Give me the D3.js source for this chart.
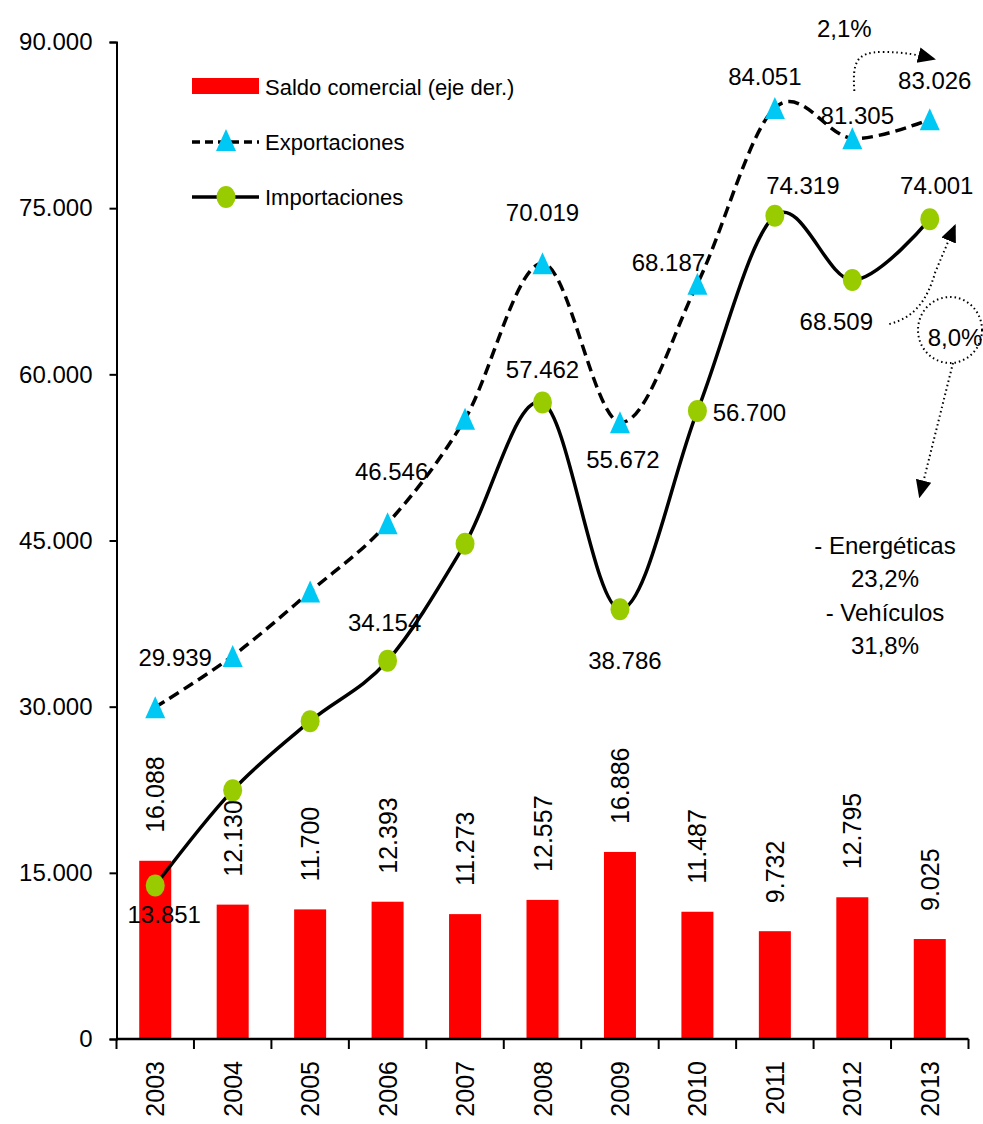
<!DOCTYPE html>
<html>
<head>
<meta charset="utf-8">
<script src="https://cdn.jsdelivr.net/npm/d3@7"></script>
<style>
  html, body { margin: 0; padding: 0; background: #fff; }
  svg text { font-family: "Liberation Sans", Arial, sans-serif; fill: #000; }
</style>
</head>
<body>
<svg id="chart" width="983" height="1124"></svg>
<script>
// Comercio exterior 2003-2013 (millones)
const years = ["2003","2004","2005","2006","2007","2008","2009","2010","2011","2012","2013"];
const exportaciones = [29939, 34576, 40387, 46546, 55980, 70019, 55672, 68187, 84051, 81305, 83026];
const importaciones = [13851, 22445, 28687, 34154, 44707, 57462, 38786, 56700, 74319, 68509, 74001];
const saldo = [16088, 12130, 11700, 12393, 11273, 12557, 16886, 11487, 9732, 12795, 9025];
const yTicks = [0, 15000, 30000, 45000, 60000, 75000, 90000];

// which points carry a value label, and where that label sits relative to its point
const expLabelOffsets = [[20,-50], null, null, [4,-52], null, [0,-51], [3,37], [-29,-21], [-10,-31], [5,-23], [5,-39]];
const impLabelOffsets = [[9,29], null, null, [-3,-38], null, [0,-33], [5,51], [52,2], [28,-30], [-16,41], [7,-34]];

const fmt = v => {
  const s = String(Math.round(v));
  return s.replace(/\B(?=(\d{3})+(?!\d))/g, ".");
};

const svg = d3.select("#chart");
const plotLeft = 116.5, plotRight = 968.5, plotTop = 42, plotBottom = 1039;

const x = d3.scaleBand().domain(years).range([plotLeft, plotRight]).paddingInner(0).paddingOuter(0);
const y = d3.scaleLinear().domain([0, 90000]).range([plotBottom, plotTop]);
const cx = d => x(d) + x.bandwidth() / 2;
const barW = 32;

// arrowhead
const defs = svg.append("defs");
defs.append("marker")
  .attr("id", "arrow")
  .attr("markerUnits", "userSpaceOnUse")
  .attr("markerWidth", 18).attr("markerHeight", 18)
  .attr("viewBox", "0 -8 16 16")
  .attr("refX", 14).attr("refY", 0)
  .attr("orient", "auto")
  .append("path").attr("d", "M0,-7L16,0L0,7Z").attr("fill", "#000");

// bars: saldo comercial
svg.append("g").selectAll("rect").data(saldo).join("rect")
  .attr("x", (d, i) => cx(years[i]) - barW / 2)
  .attr("y", d => y(d))
  .attr("width", barW)
  .attr("height", d => y(0) - y(d))
  .attr("fill", "#ff0000");

// bar value labels, rotated
svg.append("g").selectAll("text").data(saldo).join("text")
  .attr("transform", (d, i) => `translate(${cx(years[i]) + 9},${y(d) - 28}) rotate(-90)`)
  .attr("text-anchor", "start")
  .style("font-size", "25px")
  .text(d => fmt(d));

// y axis
const yAxis = svg.append("g").attr("transform", `translate(${plotLeft},0)`)
  .call(d3.axisLeft(y).tickValues(yTicks).tickSize(7).tickPadding(17)
    .tickFormat(d => d === 0 ? "0" : fmt(d)));
yAxis.select(".domain").attr("stroke", "#000").attr("stroke-width", 2);
yAxis.selectAll(".tick line").attr("stroke", "#000").attr("stroke-width", 2);
yAxis.selectAll(".tick text").style("font-size", "24px").style("font-family", "Liberation Sans, Arial, sans-serif").attr("fill", "#000");

// x axis: ticks at category boundaries
const xg = svg.append("g");
xg.append("line").attr("x1", plotLeft).attr("x2", plotRight).attr("y1", plotBottom).attr("y2", plotBottom)
  .attr("stroke", "#000").attr("stroke-width", 2.5);
const bounds = years.map(d => x(d)).concat([x(years[years.length - 1]) + x.bandwidth()]);
xg.selectAll("line.t").data(bounds).join("line").attr("class", "t")
  .attr("x1", d => d).attr("x2", d => d).attr("y1", plotBottom).attr("y2", plotBottom + 10)
  .attr("stroke", "#000").attr("stroke-width", 2);
xg.selectAll("text").data(years).join("text")
  .attr("transform", d => `translate(${cx(d) + 9},${plotBottom + 22}) rotate(-90)`)
  .attr("text-anchor", "end")
  .style("font-size", "25px")
  .text(d => d);

// lines
const line = d3.line().x((d, i) => cx(years[i])).y(d => y(d)).curve(d3.curveCardinal.tension(0));
svg.append("path").datum(exportaciones).attr("d", line)
  .attr("fill", "none").attr("stroke", "#000").attr("stroke-width", 3.5)
  .attr("stroke-dasharray", "11,6");
svg.append("path").datum(importaciones).attr("d", line)
  .attr("fill", "none").attr("stroke", "#000").attr("stroke-width", 3.5);

// markers
const tri = (px, py) => `M${px},${py - 11}L${px + 10},${py + 11}L${px - 10},${py + 11}Z`;
svg.append("g").selectAll("path").data(exportaciones).join("path")
  .attr("d", (d, i) => tri(cx(years[i]), y(d)))
  .attr("fill", "#00c8f5");
svg.append("g").selectAll("ellipse").data(importaciones).join("ellipse")
  .attr("cx", (d, i) => cx(years[i])).attr("cy", d => y(d))
  .attr("rx", 9.5).attr("ry", 11)
  .attr("fill", "#99cc00");

// value labels on the lines
function pointLabels(values, offsets) {
  svg.append("g").selectAll("text")
    .data(values.map((v, i) => ({ v, i, o: offsets[i] })).filter(d => d.o))
    .join("text")
    .attr("x", d => cx(years[d.i]) + d.o[0])
    .attr("y", d => y(d.v) + d.o[1])
    .attr("text-anchor", "middle")
    .attr("dominant-baseline", "central")
    .style("font-size", "24px")
    .text(d => fmt(d.v));
}
pointLabels(exportaciones, expLabelOffsets);
pointLabels(importaciones, impLabelOffsets);

// legend
const lg = svg.append("g");
lg.append("rect").attr("x", 192).attr("y", 78).attr("width", 67).attr("height", 16).attr("fill", "#ff0000");
lg.append("text").attr("x", 265).attr("y", 87).attr("dominant-baseline", "central").style("font-size", "22px")
  .text("Saldo comercial (eje der.)");
lg.append("line").attr("x1", 192).attr("x2", 259).attr("y1", 142).attr("y2", 142)
  .attr("stroke", "#000").attr("stroke-width", 3.5).attr("stroke-dasharray", "8,5");
lg.append("path").attr("d", tri(226, 140)).attr("fill", "#00c8f5");
lg.append("text").attr("x", 265).attr("y", 142).attr("dominant-baseline", "central").style("font-size", "22px")
  .text("Exportaciones");
lg.append("line").attr("x1", 192).attr("x2", 259).attr("y1", 197).attr("y2", 197)
  .attr("stroke", "#000").attr("stroke-width", 3.5);
lg.append("ellipse").attr("cx", 226).attr("cy", 197).attr("rx", 9.5).attr("ry", 11).attr("fill", "#99cc00");
lg.append("text").attr("x", 265).attr("y", 197).attr("dominant-baseline", "central").style("font-size", "22px")
  .text("Importaciones");

// annotations: growth rates
const ann = svg.append("g");
const dotted = sel => sel.attr("fill", "none").attr("stroke", "#000").attr("stroke-width", 2)
  .attr("stroke-dasharray", "1.5,3");

const x12 = cx("2012"), x13 = cx("2013");
ann.append("text").attr("x", x12 - 8).attr("y", 28).attr("text-anchor", "middle")
  .attr("dominant-baseline", "central").style("font-size", "24px").text("2,1%");
ann.append("path")
  .attr("d", `M${x12 + 2},91 C${x12},62 ${x12 + 4},52 ${x12 + 30},52 C${x12 + 52},52 ${x12 + 66},55 ${x13 + 4},59`)
  .call(dotted).attr("marker-end", "url(#arrow)");

ann.append("path")
  .attr("d", `M${x12 + 37},324 C${x12 + 62},318 ${x12 + 75},300 ${x12 + 83},272 L${x13 + 25},226`)
  .call(dotted).attr("marker-end", "url(#arrow)");
ann.append("ellipse").attr("cx", 950).attr("cy", 330).attr("rx", 32).attr("ry", 33).call(dotted);
ann.append("text").attr("x", 955).attr("y", 337).attr("text-anchor", "middle")
  .attr("dominant-baseline", "central").style("font-size", "24px").text("8,0%");
ann.append("path")
  .attr("d", `M953,363 L${x13 - 10},496`)
  .call(dotted).attr("marker-end", "url(#arrow)");

const notes = ["- Energéticas", "23,2%", "- Vehículos", "31,8%"];
ann.selectAll("text.note").data(notes).join("text").attr("class", "note")
  .attr("x", 885).attr("y", (d, i) => 545 + i * 33.5)
  .attr("text-anchor", "middle").attr("dominant-baseline", "central")
  .style("font-size", "24px").text(d => d);
</script>
</body>
</html>
